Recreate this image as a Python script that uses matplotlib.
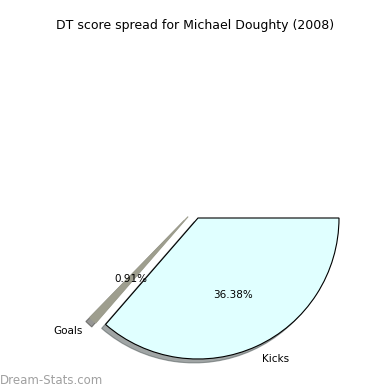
import matplotlib
matplotlib.use('Agg')
import matplotlib.pyplot as plt

labels = ['Kicks', 'Goals']
fractions = [0.3638, 0.0091]
colors = ['#e0ffff', '#9e9e8e']

# the Goals slice is pushed sideways in the reference, not radially
goals_shift = (-0.07, 0.01)

fig = plt.figure(figsize=(3.9, 3.9), dpi=100)
ax = fig.add_axes([0, 0, 1, 1])

txt = {'fontsize': 7.5}
ax.pie([fractions[0]], labels=[labels[0]], colors=[colors[0]],
       startangle=0, counterclock=False, normalize=False, shadow=True,
       autopct='%.2f%%', wedgeprops={'linewidth': 0.8, 'edgecolor': 'black'},
       textprops=txt)
ax.pie([fractions[1]], labels=[labels[1]], colors=[colors[1]],
       startangle=-360 * fractions[0], counterclock=False, normalize=False, shadow=True,
       autopct='%.2f%%', center=goals_shift,
       wedgeprops={'linewidth': 0.8, 'edgecolor': colors[1]},
       textprops=txt)

# place the pie where the reference has it
ax.set_xlim(-198/141, 192/141)
ax.set_ylim(-172/141, 218/141)
ax.set_aspect('equal')
ax.axis('off')

fig.text(0.5, 0.925, 'DT score spread for Michael Doughty (2008)', ha='center', fontsize=9)
fig.text(0.0, 0.015, 'Dream-Stats.com', ha='left', fontsize=8.5, color='#a0a0a0')

plt.savefig('out.png', dpi=100)
plt.close()
